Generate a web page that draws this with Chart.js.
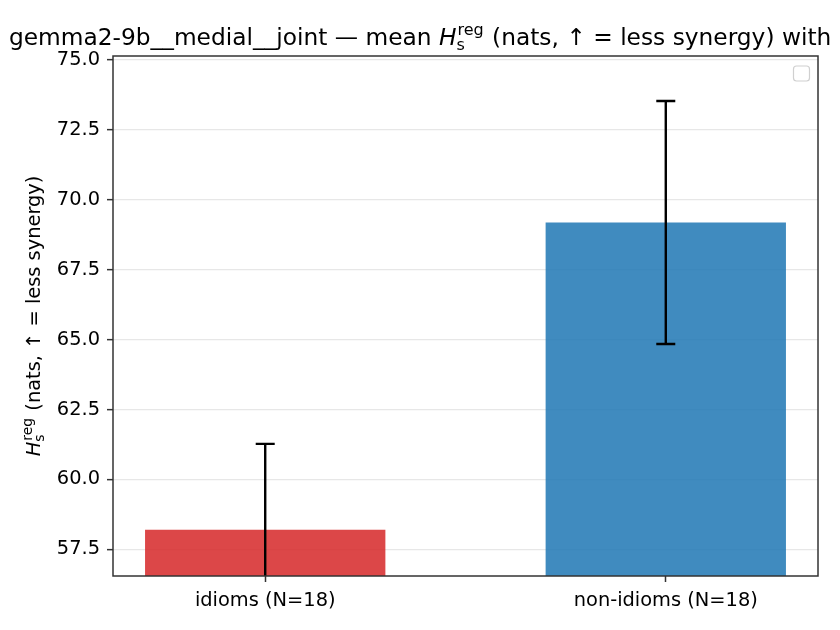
<!DOCTYPE html>
<html>
<head>
<meta charset="utf-8">
<script src="https://cdn.jsdelivr.net/npm/chart.js@4/dist/chart.umd.min.js"></script>
<style>
  body { margin: 0; background: #fff; }
  #wrap { width: 840px; height: 630px; }
</style>
</head>
<body>
<div id="wrap"><canvas id="myChart" width="840" height="630"></canvas></div>
<script>
// data
var categories = ['idioms (N=18)', 'non-idioms (N=18)'];
var means = [58.20, 69.18];
var errors = [3.07, 4.34];
var barColors = ['rgba(214, 39, 40, 0.85)', 'rgba(31, 119, 180, 0.85)'];
var yTicks = [57.5, 60.0, 62.5, 65.0, 67.5, 70.0, 72.5, 75.0];
var yRange = [56.55, 75.13];
var xRange = [-0.38, 1.38];

var FONT = '"DejaVu Sans", sans-serif';
var SPINE = '#333333';

// draw a run of text with a mathtext-like H_s^reg piece in it
function drawRich(ctx, parts, x, y, size) {
  var small = Math.round(size * 0.7);
  parts.forEach(function(p) {
    if (p.script) {
      ctx.font = small + 'px ' + FONT;
      var wSup = ctx.measureText(p.sup).width;
      var wSub = ctx.measureText(p.sub).width;
      ctx.fillText(p.sup, x + 1, y - size * 0.42);
      ctx.fillText(p.sub, x, y + size * 0.22);
      x += Math.max(wSup + 1, wSub) + 1;
    } else {
      ctx.font = (p.italic ? 'italic ' : '') + size + 'px ' + FONT;
      ctx.fillText(p.text, x, y);
      x += ctx.measureText(p.text).width;
    }
  });
  return x;
}

function richWidth(ctx, parts, size) {
  var small = Math.round(size * 0.7);
  var w = 0;
  parts.forEach(function(p) {
    if (p.script) {
      ctx.font = small + 'px ' + FONT;
      w += Math.max(ctx.measureText(p.sup).width + 1, ctx.measureText(p.sub).width) + 1;
    } else {
      ctx.font = (p.italic ? 'italic ' : '') + size + 'px ' + FONT;
      w += ctx.measureText(p.text).width;
    }
  });
  return w;
}

var titleParts = [
  { text: 'gemma2-9b__medial__joint \u2014 mean ' },
  { text: 'H', italic: true },
  { script: true, sup: 'reg', sub: 's' },
  { text: ' (nats, \u2191 = less synergy) with' }
];
var ylabelParts = [
  { text: 'H', italic: true },
  { script: true, sup: 'reg', sub: 's' },
  { text: ' (nats, \u2191 = less synergy)' }
];

var decorations = {
  id: 'decorations',
  afterDraw: function(chart) {
    var ctx = chart.ctx;
    var area = chart.chartArea;
    var xs = chart.scales.x;
    var ys = chart.scales.y;

    // error bars
    ctx.save();
    ctx.beginPath();
    ctx.rect(area.left, area.top, area.right - area.left, area.bottom - area.top);
    ctx.clip();
    ctx.strokeStyle = '#000';
    ctx.lineWidth = 2.4;
    for (var i = 0; i < means.length; i++) {
      var cx = xs.getPixelForValue(i);
      var top = ys.getPixelForValue(means[i] + errors[i]);
      var bot = ys.getPixelForValue(means[i] - errors[i]);
      ctx.beginPath();
      ctx.moveTo(cx, top); ctx.lineTo(cx, bot);
      ctx.moveTo(cx - 9.5, top); ctx.lineTo(cx + 9.5, top);
      ctx.moveTo(cx - 9.5, bot); ctx.lineTo(cx + 9.5, bot);
      ctx.stroke();
    }
    ctx.restore();

    // spines
    ctx.save();
    ctx.strokeStyle = SPINE;
    ctx.lineWidth = 1.5;
    ctx.strokeRect(area.left, area.top, area.right - area.left, area.bottom - area.top);

    // empty legend box
    ctx.fillStyle = 'rgba(255,255,255,0.8)';
    ctx.strokeStyle = '#d0d0d0';
    ctx.lineWidth = 1.2;
    ctx.beginPath();
    ctx.roundRect(area.right - 24.5, area.top + 10, 16, 15, 3);
    ctx.fill();
    ctx.stroke();

    // title
    ctx.fillStyle = '#000';
    ctx.textBaseline = 'alphabetic';
    ctx.textAlign = 'left';
    drawRich(ctx, titleParts, 9, 45, 23.3);

    // y axis label
    ctx.translate(40, (area.top + area.bottom) / 2);
    ctx.rotate(-Math.PI / 2);
    var w = richWidth(ctx, ylabelParts, 19.4);
    drawRich(ctx, ylabelParts, -w / 2, 0, 19.4);
    ctx.restore();
  }
};

Chart.defaults.font.family = FONT;
Chart.defaults.font.size = 19.4;
Chart.defaults.color = '#000';

var ctx = document.getElementById('myChart');
var myChart = new Chart(ctx, {
  type: 'bar',
  data: {
    datasets: [{
      data: means.map(function(v, i) { return { x: i, y: v }; }),
      backgroundColor: barColors,
      borderWidth: 0,
      categoryPercentage: 0.6,
      barPercentage: 1.0
    }]
  },
  options: {
    responsive: false,
    animation: false,
    layout: { padding: { left: 0, top: 56, right: 22, bottom: 0 } },
    plugins: {
      legend: { display: false },
      title: { display: false },
      tooltip: { enabled: false }
    },
    scales: {
      x: {
        type: 'linear',
        min: xRange[0],
        max: xRange[1],
        offset: false,
        afterBuildTicks: function(scale) {
          scale.ticks = categories.map(function(c, i) { return { value: i }; });
        },
        afterFit: function(scale) { scale.height = 54; },
        ticks: {
          autoSkip: false,
          maxRotation: 0,
          padding: 7,
          callback: function(v) { return categories[v]; }
        },
        grid: {
          offset: false,
          drawOnChartArea: false,
          tickLength: 6,
          tickColor: SPINE,
          tickWidth: 1.5
        },
        border: { display: false }
      },
      y: {
        min: yRange[0],
        max: yRange[1],
        z: 1,
        afterBuildTicks: function(scale) {
          scale.ticks = yTicks.map(function(v) { return { value: v }; });
        },
        afterFit: function(scale) { scale.width = 113; },
        ticks: {
          padding: 7,
          callback: function(v) { return v.toFixed(1); }
        },
        grid: {
          color: 'rgba(176, 176, 176, 0.3)',
          lineWidth: 1.3,
          tickLength: 6,
          tickColor: SPINE,
          tickWidth: 1.5
        },
        border: { display: false }
      }
    }
  },
  plugins: [decorations]
});
</script>
</body>
</html>
